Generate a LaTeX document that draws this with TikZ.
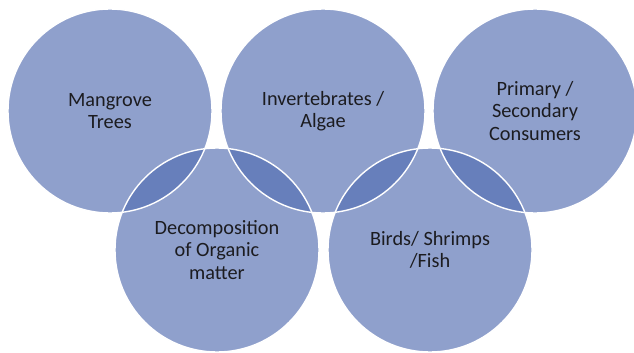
\documentclass[tikz,border=0pt]{standalone}
\usepackage{fontspec}
\setmainfont{Carlito}
\definecolor{ringblue}{RGB}{83,110,178}
\definecolor{ringtext}{RGB}{28,28,32}
\begin{document}
\begin{tikzpicture}[x=1pt,y=1pt,
  ring/.style={circle, minimum size=204pt, inner sep=0pt, fill=ringblue,
    fill opacity=0.65, text opacity=1, text=ringtext, align=center,
    font=\fontsize{20.3}{22.5}\selectfont},
  ringline/.style={draw=white, line width=1.4pt}]
\useasboundingbox (0,0) rectangle (634,-353);
\fill[white] (0,0) rectangle (634,-353);
\node[ring] (m) at (110,-111) {Mangrove\\Trees};
\node[ring] (i) at (323,-111) {Invertebrates /\\Algae};
\node[ring] (p) at (535,-111) {Primary /\\Secondary\\Consumers};
\node[ring] (d) at (217,-250) {Decomposition\\of Organic\\matter};
\node[ring] (b) at (430,-250) {Birds/ Shrimps\\/Fish};
\foreach \n in {m,i,p,d,b}
  \draw[ringline] (\n.center) circle (102pt);
\end{tikzpicture}
\end{document}
